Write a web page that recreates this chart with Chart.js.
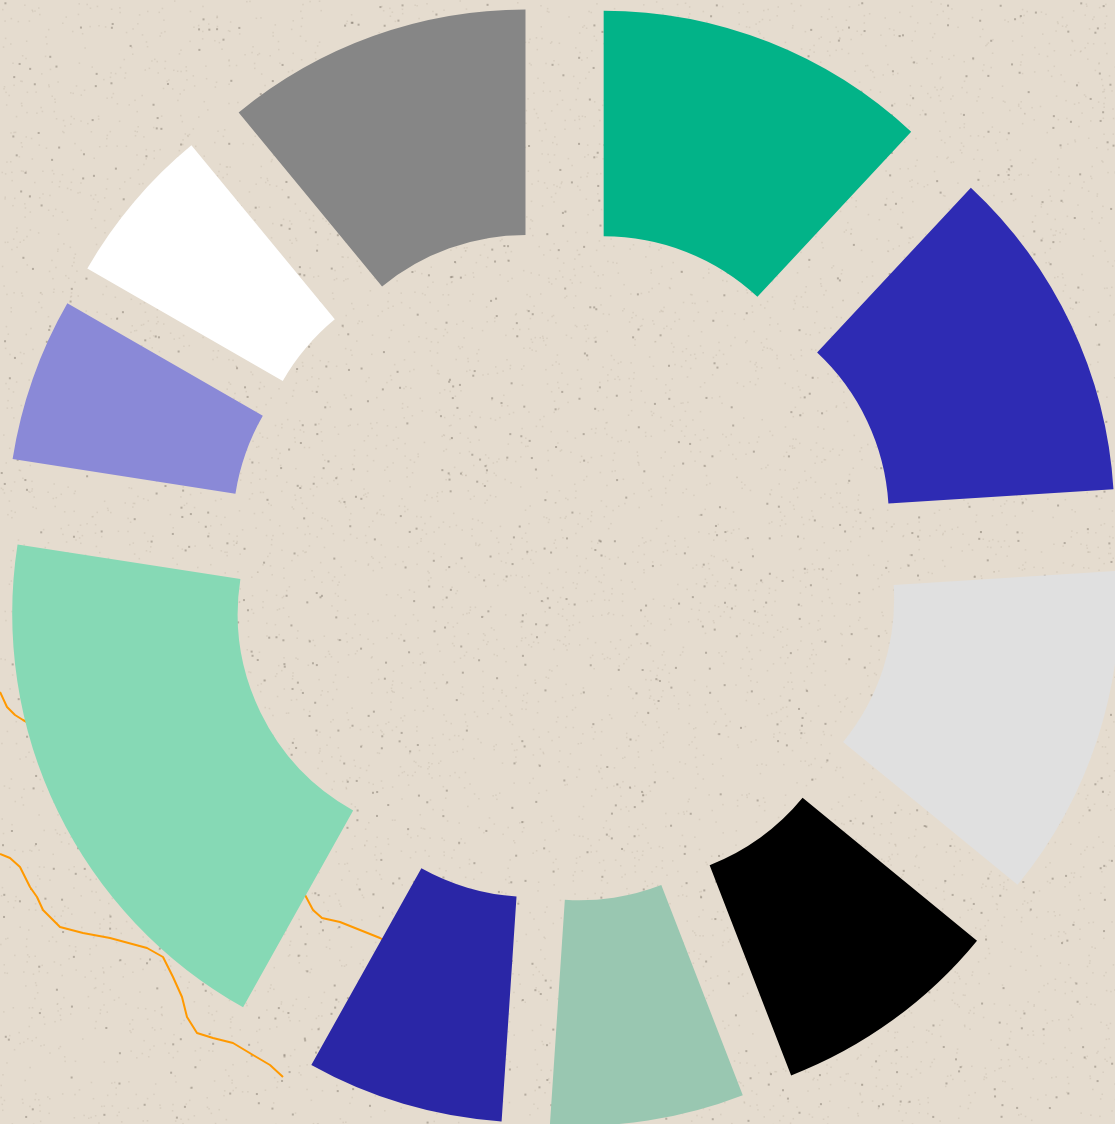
<!DOCTYPE html>
<html>
<head>
<meta charset="utf-8">
<title>Doughnut</title>
<script src="https://cdn.jsdelivr.net/npm/chart.js@4/dist/chart.umd.min.js"></script>
<style>
  html, body { margin: 0; padding: 0; background: #e5dccf; overflow: hidden; }
  canvas { display: block; }
</style>
</head>
<body>
<canvas id="myChart" width="1115" height="1124"></canvas>
<script>
'use strict';

// slices, clockwise from the top
var labels = ['Green', 'Blue', 'Light grey', 'Black', 'Sage', 'Navy', 'Mint', 'Lavender', 'White', 'Grey'];
var values = [11.94, 12.06, 11.92, 8.19, 6.94, 7.06, 19.33, 5.86, 5.72, 10.97];
var colors = ['#02b388', '#2e2bb3', '#e0e0e0', '#000000', '#99c7b1', '#2a26a6', '#86d9b5', '#8a89d7', '#ffffff', '#868686'];

// orange wavy lines in the background
var line1 = [[0,692],[7,707],[15,715],[23,720],[60,740],[120,770],[200,800],[260,840],[304,893],[313,910],[322,918],[340,922],[360,930],[380,938],[400,950]];
var line2 = [[0,854],[10,858],[20,867],[30,887],[37,897],[43,910],[60,927],[83,933],[110,938],[147,948],[163,957],[173,977],[182,997],[187,1017],[197,1033],[213,1038],[233,1043],[253,1055],[270,1065],[283,1077]];

var pushOut = 111;

function noise(n){
    var s = Math.sin(n * 12.9898) * 43758.5453;
    return s - Math.floor(s);
}

var paper = {
    id: 'paper',
    beforeDraw: function(chart){
        var c = chart.ctx;
        c.save();
        c.fillStyle = '#e5dccf';
        c.fillRect(0, 0, chart.width, chart.height);
        for (var i = 0; i < 9000; i++) {
            var x = noise(i + 1) * chart.width;
            var y = noise(i + 7777) * chart.height;
            var a = noise(i + 333);
            c.fillStyle = a > 0.85 ? 'rgba(90,80,70,0.35)' : 'rgba(140,125,110,0.15)';
            c.fillRect(x, y, a > 0.85 ? 2 : 1.5, a > 0.85 ? 2 : 1.5);
        }
        c.strokeStyle = '#ff9900';
        c.lineWidth = 2;
        c.lineJoin = 'round';
        [line1, line2].forEach(function(pts){
            c.beginPath();
            c.moveTo(pts[0][0], pts[0][1]);
            for (var k = 1; k < pts.length; k++) c.lineTo(pts[k][0], pts[k][1]);
            c.stroke();
        });
        c.restore();
    },
    // slide every slice out along its middle angle
    afterDatasetUpdate: function(chart, args){
        args.meta.data.forEach(function(arc){
            var mid = (arc.startAngle + arc.endAngle) / 2;
            arc.x += Math.cos(mid) * pushOut;
            arc.y += Math.sin(mid) * pushOut;
        });
    }
};

var ctx = document.getElementById('myChart').getContext('2d');
var chart = new Chart(ctx, {
    type: 'doughnut',
    data: {
        labels: labels,
        datasets: [{
            data: values,
            backgroundColor: colors,
            borderWidth: 0,
            clip: false
        }]
    },
    options: {
        responsive: false,
        animation: false,
        events: [],
        radius: 451,
        cutout: '50%',
        layout: { padding: { left: 11, top: 6 } },
        plugins: {
            legend: { display: false },
            tooltip: { enabled: false }
        }
    },
    plugins: [paper]
});
</script>
</body>
</html>
